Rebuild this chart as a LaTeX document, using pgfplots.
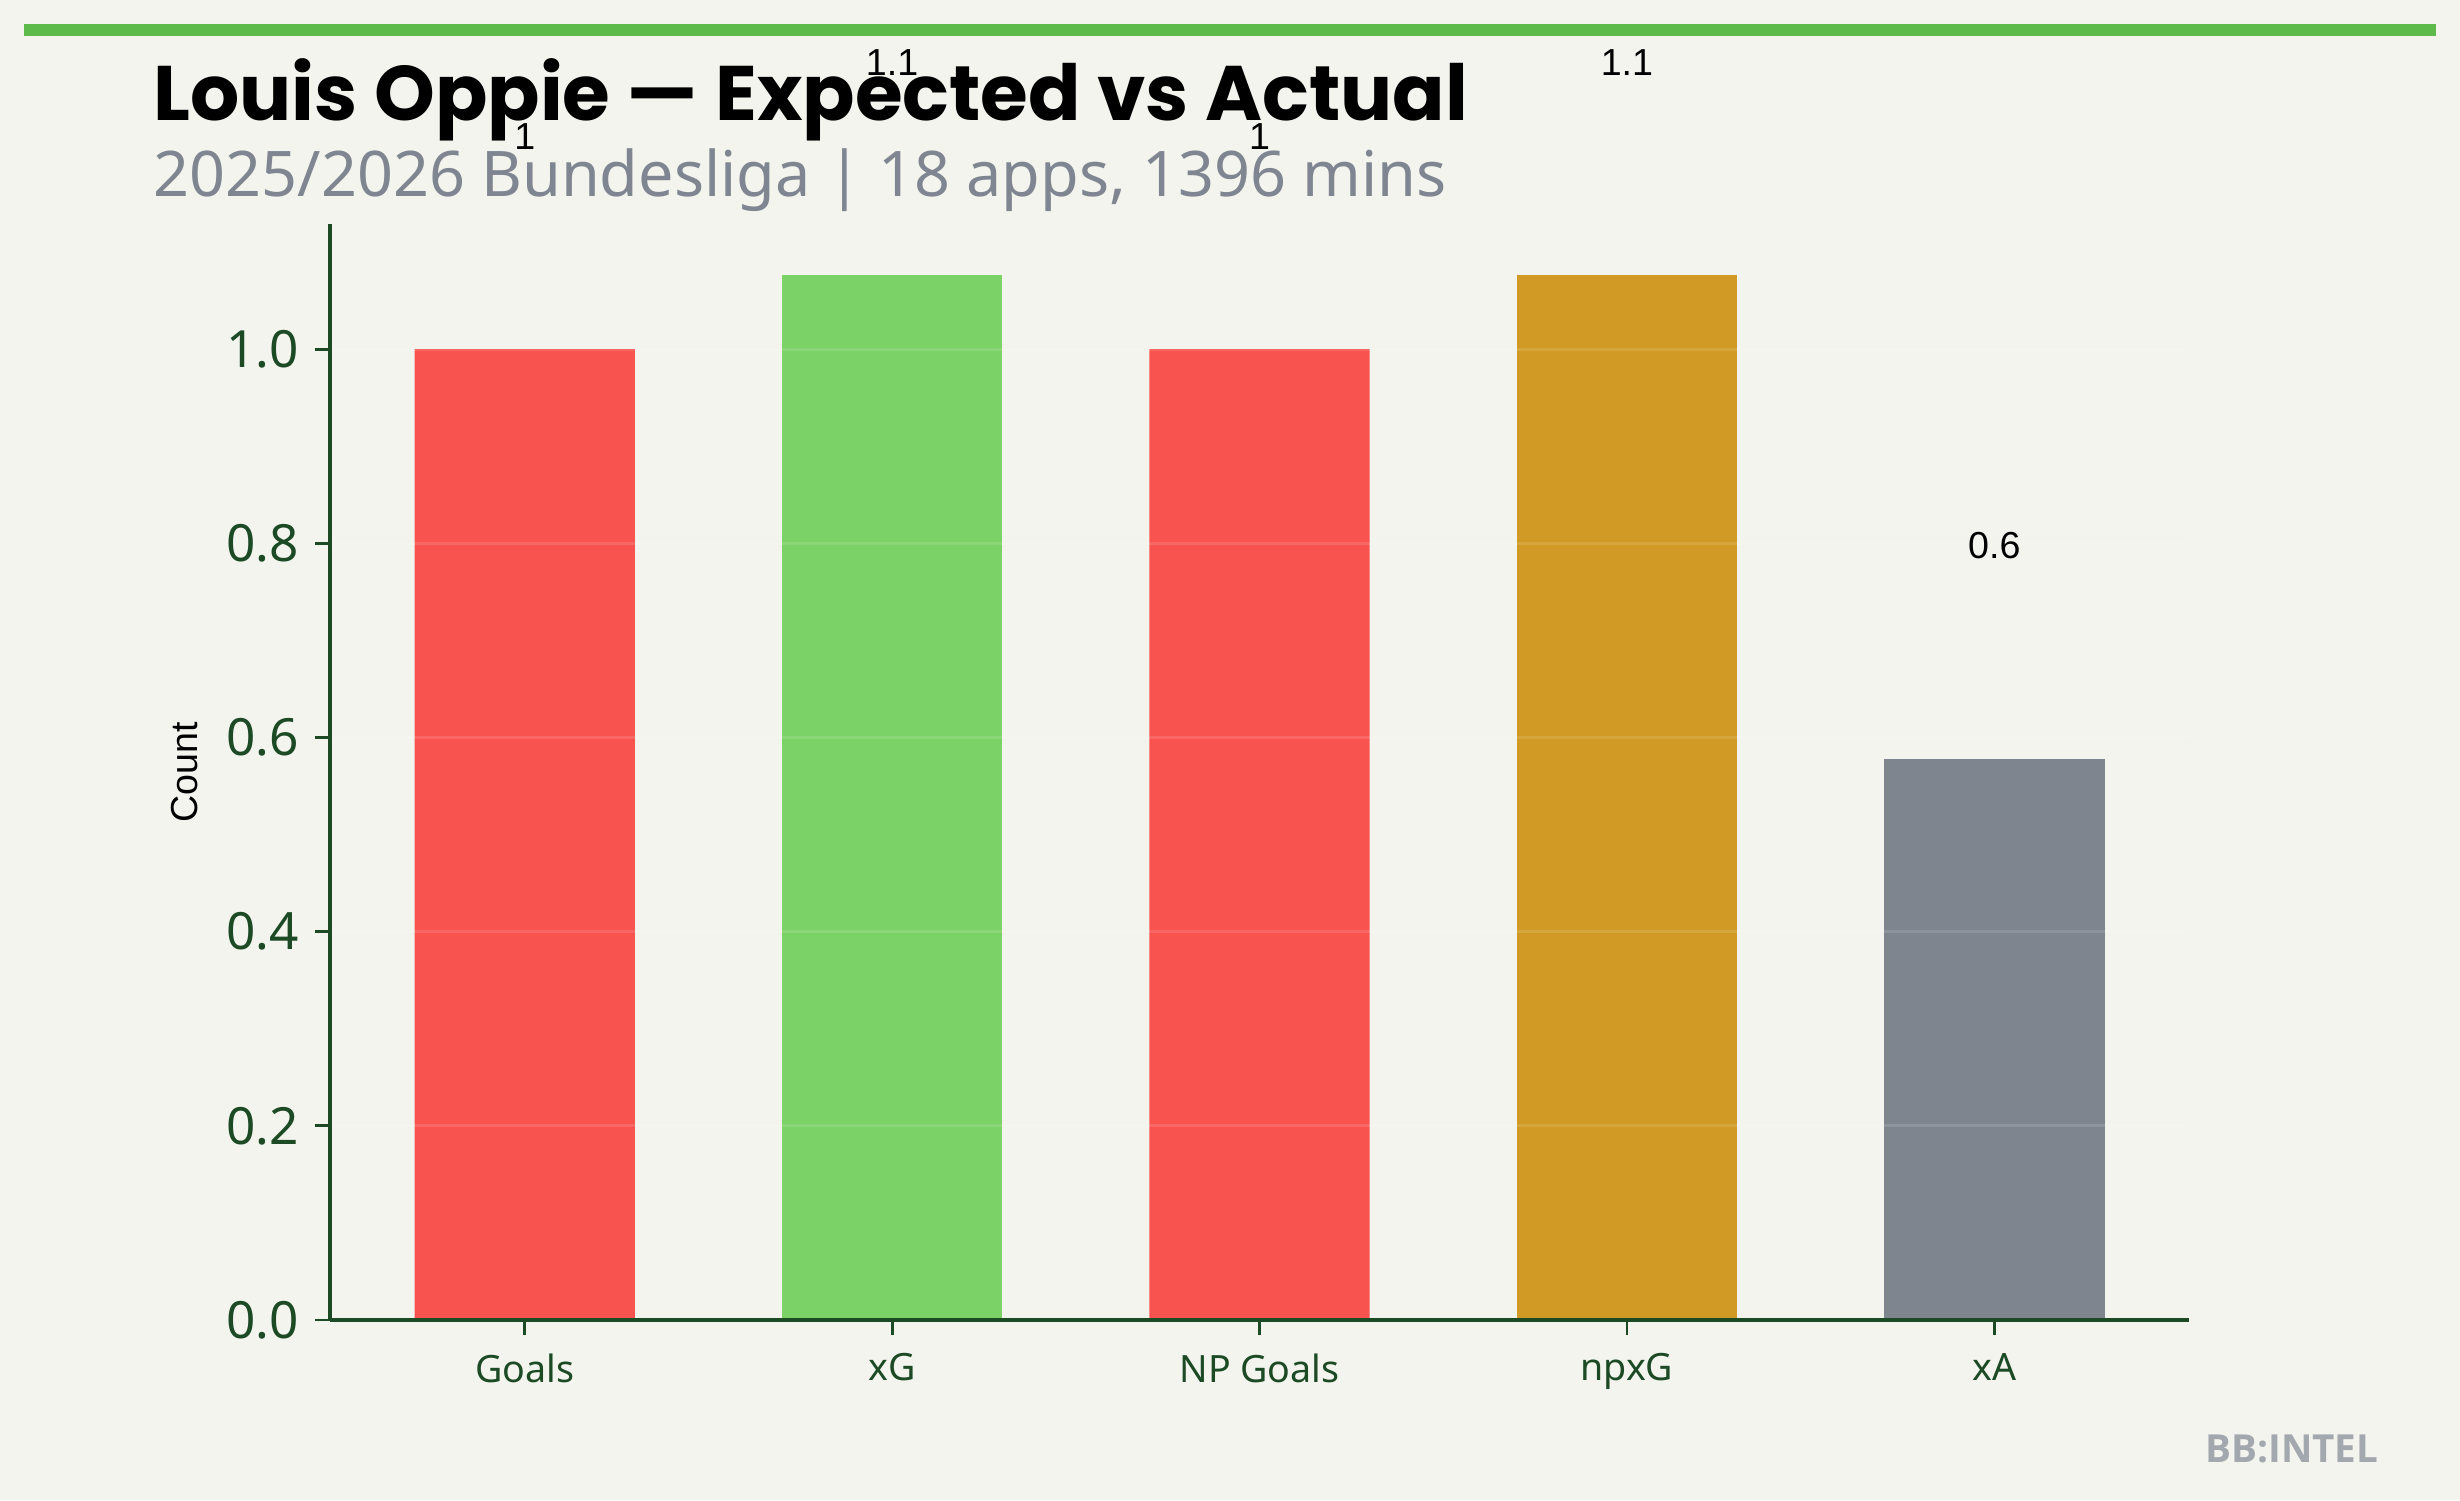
\documentclass[border=0pt]{standalone}
\usepackage{fontspec}
\usepackage{pgfplots}
\pgfplotsset{compat=1.18}
\setmainfont{Noto Sans}
\newfontfamily\titlefont{Poppins}
\newfontfamily\arialfont{Liberation Sans}
\newfontfamily\brandfont{Open Sans}
\definecolor{bgcol}{HTML}{F4F4EF}
\definecolor{topgreen}{HTML}{5BBA4A}
\definecolor{subgray}{HTML}{808691}
\definecolor{axgreen}{HTML}{1B4A25}
\definecolor{cred}{HTML}{F9534F}
\definecolor{cgreen}{HTML}{7BD266}
\definecolor{cgold}{HTML}{D19A24}
\definecolor{cgray}{HTML}{7F858F}
\definecolor{brandgray}{HTML}{A3A7AE}
\pgfplotsset{dlab/.style={nodes near coords, point meta=explicit,
  every node near coord/.append style={anchor=center, yshift=21.3mm, font=\arialfont\fontsize{10.7}{13}\selectfont, text=black, /pgf/number format/fixed, /pgf/number format/precision=1, /pgf/number format/assume math mode=true}}}
\begin{document}
\begin{tikzpicture}
\fill[bgcol] (0,0) rectangle (246mm,-150mm);
\useasboundingbox (0,0) rectangle (246mm,-150mm);
\fill[topgreen] (2.4mm,-2.4mm) rectangle (243.6mm,-3.6mm);
\node[anchor=base west, inner sep=0pt, font=\titlefont\bfseries\fontsize{22}{26}\selectfont] at (15.3mm,-12.0mm) {Louis Oppie — Expected vs Actual};
\node[anchor=base west, inner sep=0pt, text=subgray, font=\fontsize{17.9}{22}\selectfont] at (15.3mm,-19.6mm) {2025/2026 Bundesliga | 18 apps, 1396 mins};
\node[anchor=base east, inner sep=0pt, text=brandgray, font=\brandfont\bfseries\fontsize{11}{13}\selectfont] at (237.9mm,-146.2mm) {BB:INTEL};
\begin{axis}[
  at={(33mm,-132mm)}, anchor=south west,
  scale only axis, width=185.9mm, height=109.6mm,
  xmin=-0.53, xmax=4.53, ymin=0, ymax=1.129,
  clip=false,
  axis lines*=left,
  axis line style={-, axgreen, line width=1pt},
  tick align=outside, tick pos=left,
  major tick length=1.5mm,
  every tick/.style={axgreen, line width=0.8pt},
  xtick={0,1,2,3,4},
  xticklabels={Goals,xG,NP Goals,npxG,xA},
  ytick={0,0.2,0.4,0.6,0.8,1.0},
  yticklabel style={/pgf/number format/fixed, /pgf/number format/fixed zerofill, /pgf/number format/precision=1, /pgf/number format/assume math mode=true},
  y tick label style={font=\fontsize{14.6}{17}\selectfont, text=axgreen, xshift=-0.4mm},
  x tick label style={font=\fontsize{10.7}{13}\selectfont, text=axgreen, yshift=-0.6mm},
  ymajorgrids, axis on top,
  major grid style={color=white, opacity=0.12, line width=0.8pt},
  ylabel={Count},
  ylabel style={at={(axis description cs:-0.078,0.5)}, anchor=center, font=\arialfont\fontsize{10.7}{13}\selectfont, text=black},
]
\addplot[ybar, bar width=0.6, fill=cred, draw=none, dlab]
  coordinates {(0,1.0)[1] (2,1.0)[1]};
\addplot[ybar, bar width=0.6, fill=cgreen, draw=none, dlab]
  coordinates {(1,1.076)[1.076]};
\addplot[ybar, bar width=0.6, fill=cgold, draw=none, dlab]
  coordinates {(3,1.076)[1.076]};
\addplot[ybar, bar width=0.6, fill=cgray, draw=none, dlab]
  coordinates {(4,0.578)[0.578]};
\end{axis}
\end{tikzpicture}
\end{document}
